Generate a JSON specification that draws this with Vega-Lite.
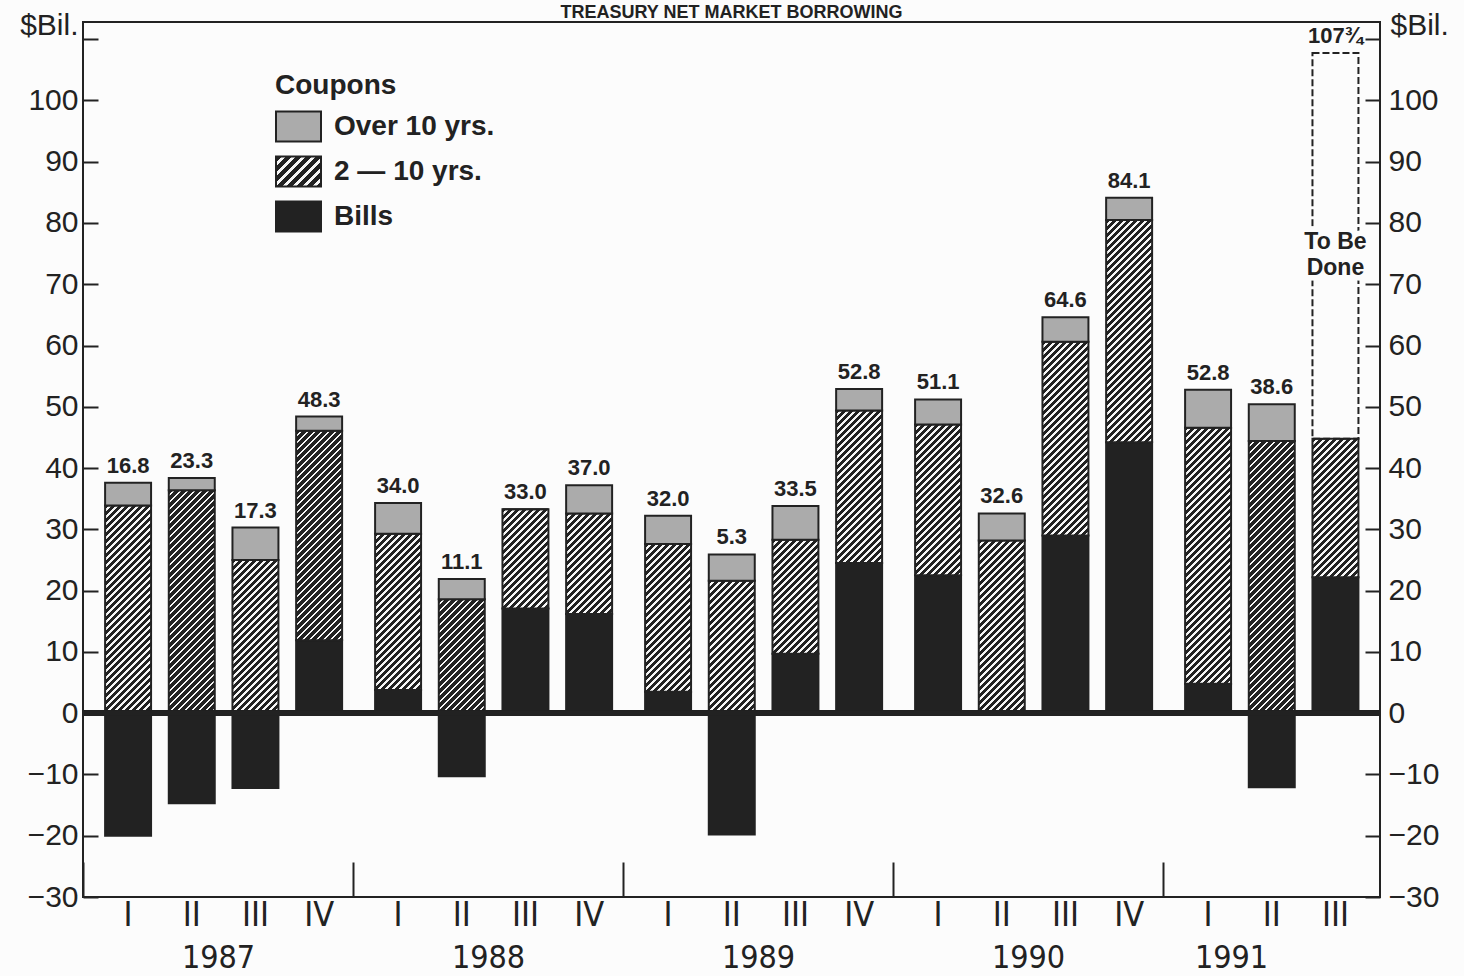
{
  "$schema": "https://vega.github.io/schema/vega-lite/v6.json",
  "width": 1297,
  "height": 875,
  "autosize": {"type": "none"},
  "padding": {"left": 83, "top": 22, "right": 84, "bottom": 79},
  "background": "#fcfcfc",
  "title": {"text": "TREASURY NET MARKET BORROWING", "fontSize": 18, "fontWeight": "bold", "font": "Liberation Sans", "color": "#222", "offset": -12, "anchor": "middle"},
  "params": [
    {"name": "hatchStops", "value": [
      {"offset":0,"color":"#222"},{"offset":0.012,"color":"#222"},{"offset":0.012,"color":"#f6f6f6"},{"offset":0.02,"color":"#f6f6f6"},
      {"offset":0.02,"color":"#222"},{"offset":0.032,"color":"#222"},{"offset":0.032,"color":"#f6f6f6"},{"offset":0.04,"color":"#f6f6f6"},
      {"offset":0.04,"color":"#222"},{"offset":0.052,"color":"#222"},{"offset":0.052,"color":"#f6f6f6"},{"offset":0.06,"color":"#f6f6f6"},
      {"offset":0.06,"color":"#222"},{"offset":0.072,"color":"#222"},{"offset":0.072,"color":"#f6f6f6"},{"offset":0.08,"color":"#f6f6f6"},
      {"offset":0.08,"color":"#222"},{"offset":0.092,"color":"#222"},{"offset":0.092,"color":"#f6f6f6"},{"offset":0.1,"color":"#f6f6f6"},
      {"offset":0.1,"color":"#222"},{"offset":0.112,"color":"#222"},{"offset":0.112,"color":"#f6f6f6"},{"offset":0.12,"color":"#f6f6f6"},
      {"offset":0.12,"color":"#222"},{"offset":0.132,"color":"#222"},{"offset":0.132,"color":"#f6f6f6"},{"offset":0.14,"color":"#f6f6f6"},
      {"offset":0.14,"color":"#222"},{"offset":0.152,"color":"#222"},{"offset":0.152,"color":"#f6f6f6"},{"offset":0.16,"color":"#f6f6f6"},
      {"offset":0.16,"color":"#222"},{"offset":0.172,"color":"#222"},{"offset":0.172,"color":"#f6f6f6"},{"offset":0.18,"color":"#f6f6f6"},
      {"offset":0.18,"color":"#222"},{"offset":0.192,"color":"#222"},{"offset":0.192,"color":"#f6f6f6"},{"offset":0.2,"color":"#f6f6f6"},
      {"offset":0.2,"color":"#222"},{"offset":0.212,"color":"#222"},{"offset":0.212,"color":"#f6f6f6"},{"offset":0.22,"color":"#f6f6f6"},
      {"offset":0.22,"color":"#222"},{"offset":0.232,"color":"#222"},{"offset":0.232,"color":"#f6f6f6"},{"offset":0.24,"color":"#f6f6f6"},
      {"offset":0.24,"color":"#222"},{"offset":0.252,"color":"#222"},{"offset":0.252,"color":"#f6f6f6"},{"offset":0.26,"color":"#f6f6f6"},
      {"offset":0.26,"color":"#222"},{"offset":0.272,"color":"#222"},{"offset":0.272,"color":"#f6f6f6"},{"offset":0.28,"color":"#f6f6f6"},
      {"offset":0.28,"color":"#222"},{"offset":0.292,"color":"#222"},{"offset":0.292,"color":"#f6f6f6"},{"offset":0.3,"color":"#f6f6f6"},
      {"offset":0.3,"color":"#222"},{"offset":0.312,"color":"#222"},{"offset":0.312,"color":"#f6f6f6"},{"offset":0.32,"color":"#f6f6f6"},
      {"offset":0.32,"color":"#222"},{"offset":0.332,"color":"#222"},{"offset":0.332,"color":"#f6f6f6"},{"offset":0.34,"color":"#f6f6f6"},
      {"offset":0.34,"color":"#222"},{"offset":0.352,"color":"#222"},{"offset":0.352,"color":"#f6f6f6"},{"offset":0.36,"color":"#f6f6f6"},
      {"offset":0.36,"color":"#222"},{"offset":0.372,"color":"#222"},{"offset":0.372,"color":"#f6f6f6"},{"offset":0.38,"color":"#f6f6f6"},
      {"offset":0.38,"color":"#222"},{"offset":0.392,"color":"#222"},{"offset":0.392,"color":"#f6f6f6"},{"offset":0.4,"color":"#f6f6f6"},
      {"offset":0.4,"color":"#222"},{"offset":0.412,"color":"#222"},{"offset":0.412,"color":"#f6f6f6"},{"offset":0.42,"color":"#f6f6f6"},
      {"offset":0.42,"color":"#222"},{"offset":0.432,"color":"#222"},{"offset":0.432,"color":"#f6f6f6"},{"offset":0.44,"color":"#f6f6f6"},
      {"offset":0.44,"color":"#222"},{"offset":0.452,"color":"#222"},{"offset":0.452,"color":"#f6f6f6"},{"offset":0.46,"color":"#f6f6f6"},
      {"offset":0.46,"color":"#222"},{"offset":0.472,"color":"#222"},{"offset":0.472,"color":"#f6f6f6"},{"offset":0.48,"color":"#f6f6f6"},
      {"offset":0.48,"color":"#222"},{"offset":0.492,"color":"#222"},{"offset":0.492,"color":"#f6f6f6"},{"offset":0.5,"color":"#f6f6f6"},
      {"offset":0.5,"color":"#222"},{"offset":0.512,"color":"#222"},{"offset":0.512,"color":"#f6f6f6"},{"offset":0.52,"color":"#f6f6f6"},
      {"offset":0.52,"color":"#222"},{"offset":0.532,"color":"#222"},{"offset":0.532,"color":"#f6f6f6"},{"offset":0.54,"color":"#f6f6f6"},
      {"offset":0.54,"color":"#222"},{"offset":0.552,"color":"#222"},{"offset":0.552,"color":"#f6f6f6"},{"offset":0.56,"color":"#f6f6f6"},
      {"offset":0.56,"color":"#222"},{"offset":0.572,"color":"#222"},{"offset":0.572,"color":"#f6f6f6"},{"offset":0.58,"color":"#f6f6f6"},
      {"offset":0.58,"color":"#222"},{"offset":0.592,"color":"#222"},{"offset":0.592,"color":"#f6f6f6"},{"offset":0.6,"color":"#f6f6f6"},
      {"offset":0.6,"color":"#222"},{"offset":0.612,"color":"#222"},{"offset":0.612,"color":"#f6f6f6"},{"offset":0.62,"color":"#f6f6f6"},
      {"offset":0.62,"color":"#222"},{"offset":0.632,"color":"#222"},{"offset":0.632,"color":"#f6f6f6"},{"offset":0.64,"color":"#f6f6f6"},
      {"offset":0.64,"color":"#222"},{"offset":0.652,"color":"#222"},{"offset":0.652,"color":"#f6f6f6"},{"offset":0.66,"color":"#f6f6f6"},
      {"offset":0.66,"color":"#222"},{"offset":0.672,"color":"#222"},{"offset":0.672,"color":"#f6f6f6"},{"offset":0.68,"color":"#f6f6f6"},
      {"offset":0.68,"color":"#222"},{"offset":0.692,"color":"#222"},{"offset":0.692,"color":"#f6f6f6"},{"offset":0.7,"color":"#f6f6f6"},
      {"offset":0.7,"color":"#222"},{"offset":0.712,"color":"#222"},{"offset":0.712,"color":"#f6f6f6"},{"offset":0.72,"color":"#f6f6f6"},
      {"offset":0.72,"color":"#222"},{"offset":0.732,"color":"#222"},{"offset":0.732,"color":"#f6f6f6"},{"offset":0.74,"color":"#f6f6f6"},
      {"offset":0.74,"color":"#222"},{"offset":0.752,"color":"#222"},{"offset":0.752,"color":"#f6f6f6"},{"offset":0.76,"color":"#f6f6f6"},
      {"offset":0.76,"color":"#222"},{"offset":0.772,"color":"#222"},{"offset":0.772,"color":"#f6f6f6"},{"offset":0.78,"color":"#f6f6f6"},
      {"offset":0.78,"color":"#222"},{"offset":0.792,"color":"#222"},{"offset":0.792,"color":"#f6f6f6"},{"offset":0.8,"color":"#f6f6f6"},
      {"offset":0.8,"color":"#222"},{"offset":0.812,"color":"#222"},{"offset":0.812,"color":"#f6f6f6"},{"offset":0.82,"color":"#f6f6f6"},
      {"offset":0.82,"color":"#222"},{"offset":0.832,"color":"#222"},{"offset":0.832,"color":"#f6f6f6"},{"offset":0.84,"color":"#f6f6f6"},
      {"offset":0.84,"color":"#222"},{"offset":0.852,"color":"#222"},{"offset":0.852,"color":"#f6f6f6"},{"offset":0.86,"color":"#f6f6f6"},
      {"offset":0.86,"color":"#222"},{"offset":0.872,"color":"#222"},{"offset":0.872,"color":"#f6f6f6"},{"offset":0.88,"color":"#f6f6f6"},
      {"offset":0.88,"color":"#222"},{"offset":0.892,"color":"#222"},{"offset":0.892,"color":"#f6f6f6"},{"offset":0.9,"color":"#f6f6f6"},
      {"offset":0.9,"color":"#222"},{"offset":0.912,"color":"#222"},{"offset":0.912,"color":"#f6f6f6"},{"offset":0.92,"color":"#f6f6f6"},
      {"offset":0.92,"color":"#222"},{"offset":0.932,"color":"#222"},{"offset":0.932,"color":"#f6f6f6"},{"offset":0.94,"color":"#f6f6f6"},
      {"offset":0.94,"color":"#222"},{"offset":0.952,"color":"#222"},{"offset":0.952,"color":"#f6f6f6"},{"offset":0.96,"color":"#f6f6f6"},
      {"offset":0.96,"color":"#222"},{"offset":0.972,"color":"#222"},{"offset":0.972,"color":"#f6f6f6"},{"offset":0.98,"color":"#f6f6f6"},
      {"offset":0.98,"color":"#222"},{"offset":0.992,"color":"#222"},{"offset":0.992,"color":"#f6f6f6"},{"offset":1,"color":"#f6f6f6"}
    ]},
    {"name": "hatchLegend", "expr": "{gradient: 'linear', x1: 0, y1: 0, x2: 7.69, y2: 5.13, stops: hatchStops}"}
  ],
  "data": {"values": [
    {"year": "1987", "q": "I", "type": "Bills", "value": -20.0},
    {"year": "1987", "q": "I", "type": "2 — 10 yrs.", "value": 33.9},
    {"year": "1987", "q": "I", "type": "Over 10 yrs.", "value": 3.7, "label": "16.8"},
    {"year": "1987", "q": "II", "type": "Bills", "value": -14.7},
    {"year": "1987", "q": "II", "type": "2 — 10 yrs.", "value": 36.4},
    {"year": "1987", "q": "II", "type": "Over 10 yrs.", "value": 2.0, "label": "23.3"},
    {"year": "1987", "q": "III", "type": "Bills", "value": -12.2},
    {"year": "1987", "q": "III", "type": "2 — 10 yrs.", "value": 25.0},
    {"year": "1987", "q": "III", "type": "Over 10 yrs.", "value": 5.3, "label": "17.3"},
    {"year": "1987", "q": "IV", "type": "Bills", "value": 11.9},
    {"year": "1987", "q": "IV", "type": "2 — 10 yrs.", "value": 34.2},
    {"year": "1987", "q": "IV", "type": "Over 10 yrs.", "value": 2.3, "label": "48.3"},
    {"year": "1988", "q": "I", "type": "Bills", "value": 3.8},
    {"year": "1988", "q": "I", "type": "2 — 10 yrs.", "value": 25.5},
    {"year": "1988", "q": "I", "type": "Over 10 yrs.", "value": 5.0, "label": "34.0"},
    {"year": "1988", "q": "II", "type": "Bills", "value": -10.3},
    {"year": "1988", "q": "II", "type": "2 — 10 yrs.", "value": 18.6},
    {"year": "1988", "q": "II", "type": "Over 10 yrs.", "value": 3.3, "label": "11.1"},
    {"year": "1988", "q": "III", "type": "Bills", "value": 17.1},
    {"year": "1988", "q": "III", "type": "2 — 10 yrs.", "value": 16.2},
    {"year": "1988", "q": "III", "type": "Over 10 yrs.", "value": 0, "label": "33.0"},
    {"year": "1988", "q": "IV", "type": "Bills", "value": 16.2},
    {"year": "1988", "q": "IV", "type": "2 — 10 yrs.", "value": 16.4},
    {"year": "1988", "q": "IV", "type": "Over 10 yrs.", "value": 4.6, "label": "37.0"},
    {"year": "1989", "q": "I", "type": "Bills", "value": 3.5},
    {"year": "1989", "q": "I", "type": "2 — 10 yrs.", "value": 24.1},
    {"year": "1989", "q": "I", "type": "Over 10 yrs.", "value": 4.6, "label": "32.0"},
    {"year": "1989", "q": "II", "type": "Bills", "value": -19.8},
    {"year": "1989", "q": "II", "type": "2 — 10 yrs.", "value": 21.6},
    {"year": "1989", "q": "II", "type": "Over 10 yrs.", "value": 4.3, "label": "5.3"},
    {"year": "1989", "q": "III", "type": "Bills", "value": 9.7},
    {"year": "1989", "q": "III", "type": "2 — 10 yrs.", "value": 18.6},
    {"year": "1989", "q": "III", "type": "Over 10 yrs.", "value": 5.5, "label": "33.5"},
    {"year": "1989", "q": "IV", "type": "Bills", "value": 24.5},
    {"year": "1989", "q": "IV", "type": "2 — 10 yrs.", "value": 24.9},
    {"year": "1989", "q": "IV", "type": "Over 10 yrs.", "value": 3.5, "label": "52.8"},
    {"year": "1990", "q": "I", "type": "Bills", "value": 22.5},
    {"year": "1990", "q": "I", "type": "2 — 10 yrs.", "value": 24.6},
    {"year": "1990", "q": "I", "type": "Over 10 yrs.", "value": 4.1, "label": "51.1"},
    {"year": "1990", "q": "II", "type": "Bills", "value": 0.3},
    {"year": "1990", "q": "II", "type": "2 — 10 yrs.", "value": 27.9},
    {"year": "1990", "q": "II", "type": "Over 10 yrs.", "value": 4.4, "label": "32.6"},
    {"year": "1990", "q": "III", "type": "Bills", "value": 29.0},
    {"year": "1990", "q": "III", "type": "2 — 10 yrs.", "value": 31.6},
    {"year": "1990", "q": "III", "type": "Over 10 yrs.", "value": 4.0, "label": "64.6"},
    {"year": "1990", "q": "IV", "type": "Bills", "value": 44.2},
    {"year": "1990", "q": "IV", "type": "2 — 10 yrs.", "value": 36.3},
    {"year": "1990", "q": "IV", "type": "Over 10 yrs.", "value": 3.6, "label": "84.1"},
    {"year": "1991", "q": "I", "type": "Bills", "value": 4.8},
    {"year": "1991", "q": "I", "type": "2 — 10 yrs.", "value": 41.8},
    {"year": "1991", "q": "I", "type": "Over 10 yrs.", "value": 6.2, "label": "52.8"},
    {"year": "1991", "q": "II", "type": "Bills", "value": -12.1},
    {"year": "1991", "q": "II", "type": "2 — 10 yrs.", "value": 44.4},
    {"year": "1991", "q": "II", "type": "Over 10 yrs.", "value": 6.0, "label": "38.6"},
    {"year": "1991", "q": "III", "type": "Bills", "value": 22.2},
    {"year": "1991", "q": "III", "type": "2 — 10 yrs.", "value": 22.6},
    {"year": "1991", "q": "III", "type": "To Be Done", "value": 62.95, "label": "107¾"}
  ]},
  "transform": [{"stack": "value", "groupby": ["year", "q"], "as": ["v0", "v1"]}],
  "layer": [
    {
      "mark": {
        "type": "bar",
        "stroke": "#222",
        "strokeWidth": 2,
        "fill": {"expr": "datum.type === 'Bills' ? '#222' : datum.type === 'Over 10 yrs.' ? '#ababab' : datum.type === 'To Be Done' ? 'transparent' : {gradient: 'linear', x1: 0, y1: 0, x2: 350 * bandwidth('xOffset') / (pow(bandwidth('xOffset'), 2) + pow(scale('y', datum.v1) - scale('y', datum.v0), 2)), y2: 350 * abs(scale('y', datum.v1) - scale('y', datum.v0)) / (pow(bandwidth('xOffset'), 2) + pow(scale('y', datum.v1) - scale('y', datum.v0), 2)), stops: hatchStops}"}
      },
      "encoding": {
        "x": {
          "field": "year", "type": "nominal",
          "scale": {"range": [0, 1350], "paddingInner": 0, "paddingOuter": 0},
          "axis": {
            "title": null, "domain": false, "ticks": true, "tickSize": -35, "tickWidth": 2,
            "tickOffset": -135, "labelAngle": 0,
            "labelFont": "Liberation Sans Narrow, DejaVu Sans Condensed, sans-serif",
            "labelFontSize": 32, "labelBaseline": "middle", "labelPadding": 95,
            "labelOffset": {"condition": {"test": "datum.value === '1991'", "value": 68}, "value": 135}
          }
        },
        "xOffset": {"field": "q", "type": "nominal", "scale": {"domain": ["I", "II", "III", "IV"], "paddingInner": 0.278, "paddingOuter": 0.259, "align": 0.67}},
        "y": {
          "field": "v0", "type": "quantitative",
          "scale": {"domain": [-30, 112.8], "nice": false, "zero": false},
          "axis": {
            "orient": "left", "values": [-30, -20, -10, 0, 10, 20, 30, 40, 50, 60, 70, 80, 90, 100, 110],
            "labelExpr": "datum.value > 105 ? '' : datum.label",
            "tickSize": -15, "tickWidth": 2, "labelFontSize": 30, "labelPadding": 20,
            "title": "$Bil.", "titleAngle": 0, "titleX": -5, "titleY": 3, "titleAlign": "right", "titleBaseline": "middle",
            "titleFontSize": 30, "titleFontWeight": "normal"
          }
        },
        "y2": {"field": "v1"},
        "strokeDash": {"condition": {"test": "datum.type === 'To Be Done'", "value": [7, 3]}, "value": [1, 0]}
      }
    },
    {
      "mark": {"type": "rule", "color": "#222", "strokeWidth": 5},
      "encoding": {"y": {"datum": 0, "axis": null}}
    },
    {
      "transform": [{"filter": "datum.label != null"}],
      "mark": {"type": "text", "fontSize": 22, "fontWeight": "bold", "baseline": "alphabetic", "dy": -10, "color": "#222"},
      "encoding": {
        "x": {"field": "year", "type": "nominal"},
        "xOffset": {"field": "q", "type": "nominal"},
        "y": {"field": "v1", "type": "quantitative", "axis": null},
        "text": {"field": "label"}
      }
    },
    {
      "transform": [{"filter": "datum.type === 'Bills'"}],
      "mark": {"type": "text", "font": "Liberation Sans Narrow, DejaVu Sans Condensed, sans-serif", "fontSize": 34, "baseline": "middle", "dy": 19, "color": "#222"},
      "encoding": {
        "x": {"field": "year", "type": "nominal"},
        "xOffset": {"field": "q", "type": "nominal"},
        "y": {"datum": -30, "axis": null},
        "text": {"field": "q"}
      }
    },
    {
      "transform": [{"filter": "datum.type === 'To Be Done'"}],
      "mark": {"type": "text", "text": ["To Be", "Done"], "fontSize": 23, "fontWeight": "bold", "lineHeight": 26, "baseline": "middle", "color": "#fcfcfc", "stroke": "#fcfcfc", "strokeWidth": 11},
      "encoding": {
        "x": {"field": "year", "type": "nominal"},
        "xOffset": {"field": "q", "type": "nominal"},
        "y": {"datum": 76.9, "axis": null}
      }
    },
    {
      "transform": [{"filter": "datum.type === 'To Be Done'"}],
      "mark": {"type": "text", "text": ["To Be", "Done"], "fontSize": 23, "fontWeight": "bold", "lineHeight": 26, "baseline": "middle", "color": "#222"},
      "encoding": {
        "x": {"field": "year", "type": "nominal"},
        "xOffset": {"field": "q", "type": "nominal"},
        "y": {"datum": 76.9, "axis": null}
      }
    },
    {
      "transform": [{"filter": "datum.type !== 'To Be Done'"}],
      "mark": {"type": "point", "filled": true, "opacity": 0, "shape": "M-1,-0.667L1,-0.667L1,0.667L-1,0.667Z"},
      "encoding": {
        "x": {"field": "year", "type": "nominal"},
        "xOffset": {"field": "q", "type": "nominal"},
        "y": {
          "field": "v1", "type": "quantitative",
          "axis": {
            "orient": "right", "values": [-30, -20, -10, 0, 10, 20, 30, 40, 50, 60, 70, 80, 90, 100, 110],
            "labelExpr": "datum.value > 105 ? '' : datum.label",
            "tickSize": -15, "tickWidth": 2, "labelFontSize": 30, "labelPadding": 23,
            "title": "$Bil.", "titleAngle": 0, "titleX": 10, "titleY": 3, "titleAlign": "left", "titleBaseline": "middle",
            "titleFontSize": 30, "titleFontWeight": "normal"
          }
        },
        "fill": {
          "field": "type", "type": "nominal",
          "scale": {"domain": ["Over 10 yrs.", "2 — 10 yrs.", "Bills"], "range": ["#ababab", {"expr": "hatchLegend"}, "#222"]},
          "legend": {
            "title": "Coupons", "orient": "none", "legendX": 192, "legendY": 50, "padding": 0,
            "titleFontSize": 28, "titleFontWeight": "bold", "titlePadding": 3,
            "labelFontSize": 28, "labelFontWeight": "bold", "labelOffset": 12, "labelLimit": 400,
            "symbolType": "M-1,-0.667L1,-0.667L1,0.667L-1,0.667Z", "symbolSize": 2025,
            "symbolStrokeColor": "#222", "symbolStrokeWidth": 2, "symbolOpacity": 1, "rowPadding": 2
          }
        }
      }
    }
  ],
  "resolve": {"axis": {"y": "independent"}},
  "config": {
    "font": "Liberation Sans",
    "view": {"stroke": "#222", "strokeWidth": 2},
    "axis": {"grid": false, "domain": false, "labelColor": "#222", "titleColor": "#222", "tickColor": "#222", "labelFont": "Liberation Sans", "titleFont": "Liberation Sans"},
    "legend": {"titleColor": "#222", "labelColor": "#222", "titleFont": "Liberation Sans", "labelFont": "Liberation Sans"}
  }
}
